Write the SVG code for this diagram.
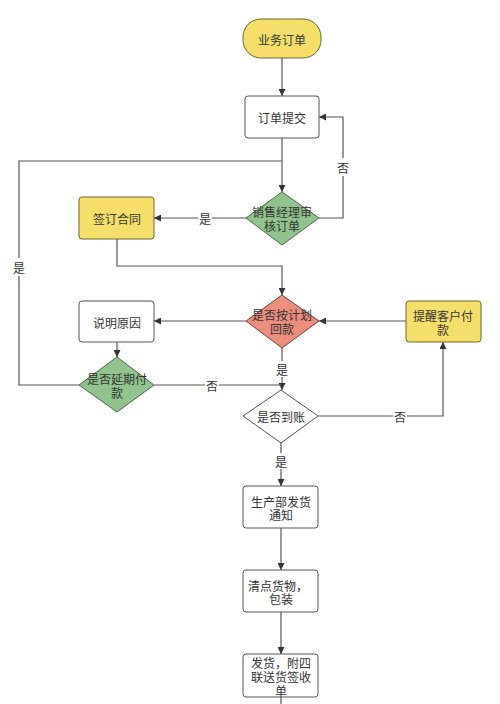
<svg xmlns="http://www.w3.org/2000/svg" width="500" height="704" viewBox="0 0 500 704">
<style>
text{font-family:"Noto Sans CJK SC","Noto Sans",sans-serif;font-size:12px;fill:#333;text-anchor:middle;dominant-baseline:central}
.box{fill:#fff;stroke:#555;stroke-width:1}
.yel{fill:#f5df6a;stroke:#6e6430;stroke-width:1}
.grn{fill:#90c48c;stroke:#466a44;stroke-width:1}
.red{fill:#ec8e7c;stroke:#6d4038;stroke-width:1}
.ln{fill:none;stroke:#555;stroke-width:1.2}
.lbg{fill:#fff}
</style>
<defs>
<marker id="ah" viewBox="0 0 10 10" refX="10" refY="5" markerWidth="7" markerHeight="7" orient="auto" markerUnits="userSpaceOnUse">
<path d="M0,0 L10,5 L0,10 z" fill="#333"/>
</marker>
</defs>
<rect width="500" height="704" fill="#fff"/>
<g id="connectors">
<path class="ln" d="M282,58 V96" marker-end="url(#ah)"/>
<path class="ln" d="M282,138 V192" marker-end="url(#ah)"/>
<path class="ln" d="M282,161 H19 V385 H79"/>
<path class="ln" d="M319,218 H343 V117 H319" marker-end="url(#ah)"/>
<path class="ln" d="M246,218 H154" marker-end="url(#ah)"/>
<path class="ln" d="M117,239 V266 H282 V295" marker-end="url(#ah)"/>
<path class="ln" d="M246,321 H154" marker-end="url(#ah)"/>
<path class="ln" d="M406,321 H319" marker-end="url(#ah)"/>
<path class="ln" d="M117,342 V357" marker-end="url(#ah)"/>
<path class="ln" d="M282,348 V390" marker-end="url(#ah)"/>
<path class="ln" d="M154,385 H282"/>
<path class="ln" d="M318,416 H443 V342" marker-end="url(#ah)"/>
<path class="ln" d="M281,443 V486" marker-end="url(#ah)"/>
<path class="ln" d="M281,528 V570" marker-end="url(#ah)"/>
<path class="ln" d="M281,612 V654" marker-end="url(#ah)"/>
<path class="ln" d="M281,697 V704"/>
<rect class="lbg" x="336" y="158" width="14" height="18"/>
<text x="343" y="167">否</text>
<rect class="lbg" x="198" y="210" width="14" height="16"/>
<text x="205" y="218">是</text>
<rect class="lbg" x="12" y="258" width="14" height="18"/>
<text x="19" y="267">是</text>
<rect class="lbg" x="275" y="361" width="14" height="16"/>
<text x="282" y="369">是</text>
<rect class="lbg" x="205" y="377" width="14" height="16"/>
<text x="212" y="385">否</text>
<rect class="lbg" x="393" y="408" width="14" height="16"/>
<text x="400" y="416">否</text>
<rect class="lbg" x="274" y="453" width="14" height="16"/>
<text x="281" y="461">是</text>
</g>
<g id="n1"><rect class="yel" x="243" y="19" width="78" height="39" rx="18"/><text x="282" y="39">业务订单</text></g>
<g id="n2"><rect class="box" x="245" y="96" width="74" height="42" rx="3"/><text x="282" y="117">订单提交</text></g>
<g id="n3"><path class="grn" d="M282,192 L319,218 L282,245 L246,218 z"/><text x="282" y="211">销售经理审</text><text x="282" y="225">核订单</text></g>
<g id="n4"><rect class="yel" x="79" y="197" width="75" height="42" rx="3"/><text x="117" y="218">签订合同</text></g>
<g id="n5"><path class="red" d="M282,295 L319,321 L282,348 L246,321 z"/><text x="282" y="314">是否按计划</text><text x="282" y="328">回款</text></g>
<g id="n6"><rect class="box" x="79" y="301" width="75" height="41" rx="3"/><text x="117" y="322">说明原因</text></g>
<g id="n7"><rect class="yel" x="406" y="301" width="75" height="41" rx="3"/><text x="443" y="315">提醒客户付</text><text x="443" y="329">款</text></g>
<g id="n8"><path class="grn" d="M117,357 L154,385 L117,412 L79,385 z"/><text x="117" y="378">是否延期付</text><text x="117" y="392">款</text></g>
<g id="n9"><path class="box" d="M281,390 L318,416 L281,443 L243,416 z"/><text x="281" y="416">是否到账</text></g>
<g id="n10"><rect class="box" x="243" y="486" width="75" height="42" rx="3"/><text x="281" y="501">生产部发货</text><text x="281" y="514">通知</text></g>
<g id="n11"><rect class="box" x="243" y="570" width="75" height="42" rx="3"/><text x="278" y="585">清点货物，</text><text x="281" y="598">包装</text></g>
<g id="n12"><rect class="box" x="243" y="654" width="75" height="43" rx="3"/><text x="281" y="662">发货，附四</text><text x="281" y="676">联送货签收</text><text x="281" y="690">单</text></g>
</svg>
